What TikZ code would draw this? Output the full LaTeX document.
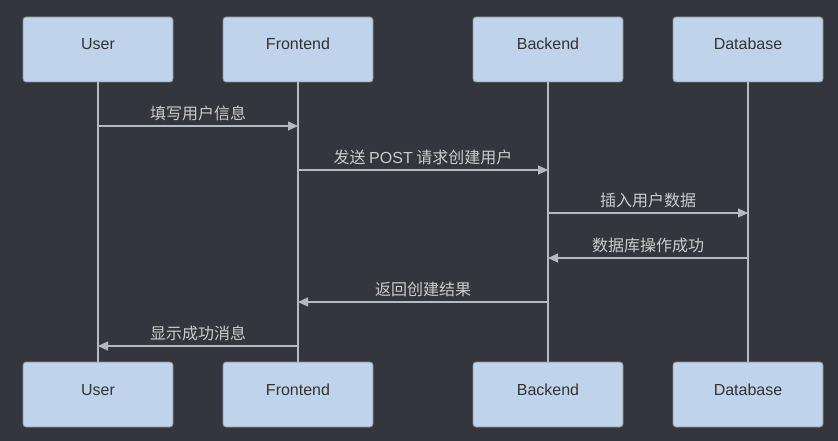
\documentclass[tikz,border=0pt]{standalone}
\usepackage{fontspec}
\setmainfont{Liberation Sans}
\newfontfamily\cjk{Noto Sans CJK SC}
\usepackage{xcolor}
\usepackage{tikz}
\usetikzlibrary{arrows.meta}
\usetikzlibrary{positioning}

\definecolor{bgcol}{HTML}{33363C}
\definecolor{boxcol}{HTML}{BFD4EA}
\definecolor{boxline}{HTML}{8A8D93}
\definecolor{linecol}{HTML}{B5B9C0}
\definecolor{msgtext}{HTML}{CCCCCC}

\begin{document}
\begin{tikzpicture}[x=1pt,y=-1pt,>={Triangle[length=10pt,width=9pt,fill=linecol]}]
	\tikzstyle{actor}=[draw=boxline, fill=boxcol, rounded corners=3pt, line width=0.8pt, minimum width=150pt, minimum height=65pt, inner sep=0pt, text height=12pt, text depth=11pt, text=black!80, font=\fontsize{16pt}{18pt}\selectfont]
	\tikzstyle{life}=[draw=linecol, line width=1.2pt]
	\tikzstyle{msg}=[draw=linecol, line width=1.2pt, ->]
	\tikzstyle{lbl}=[above=1pt, text=msgtext, font=\fontsize{16pt}{18pt}\selectfont\cjk]
	\fill[bgcol] (0,0) rectangle (838,441);
	\useasboundingbox (0,0) rectangle (838,441);
	% actors on top
	\node[actor] (U)  at (98,49.5)   {User};
	\node[actor] (F)  at (298,49.5)  {Frontend};
	\node[actor] (B)  at (548,49.5)  {Backend};
	\node[actor] (D)  at (748,49.5)  {Database};
	% actors at the bottom
	\node[actor] (U2) at (98,394.5)  {User};
	\node[actor] (F2) at (298,394.5) {Frontend};
	\node[actor] (B2) at (548,394.5) {Backend};
	\node[actor] (D2) at (748,394.5) {Database};
	% lifelines
	\draw[life] (U) -- (U2);
	\draw[life] (F) -- (F2);
	\draw[life] (B) -- (B2);
	\draw[life] (D) -- (D2);
	% message points
	\coordinate (u1) at (98,126);  \coordinate (f1) at (298,126);
	\coordinate (f2) at (298,170); \coordinate (b2) at (548,170);
	\coordinate (b3) at (548,213); \coordinate (d3) at (748,213);
	\coordinate (d4) at (748,258); \coordinate (b4) at (548,258);
	\coordinate (b5) at (548,302); \coordinate (f5) at (298,302);
	\coordinate (f6) at (298,346); \coordinate (u6) at (98,346);
	% messages
	\draw[msg] (u1) -- node[lbl] {填写用户信息} (f1);
	\draw[msg] (f2) -- node[lbl] {发送 {\fontspec{Liberation Sans}POST} 请求创建用户} (b2);
	\draw[msg] (b3) -- node[lbl] {插入用户数据} (d3);
	\draw[msg] (d4) -- node[lbl] {数据库操作成功} (b4);
	\draw[msg] (b5) -- node[lbl] {返回创建结果} (f5);
	\draw[msg] (f6) -- node[lbl] {显示成功消息} (u6);
\end{tikzpicture}
\end{document}
